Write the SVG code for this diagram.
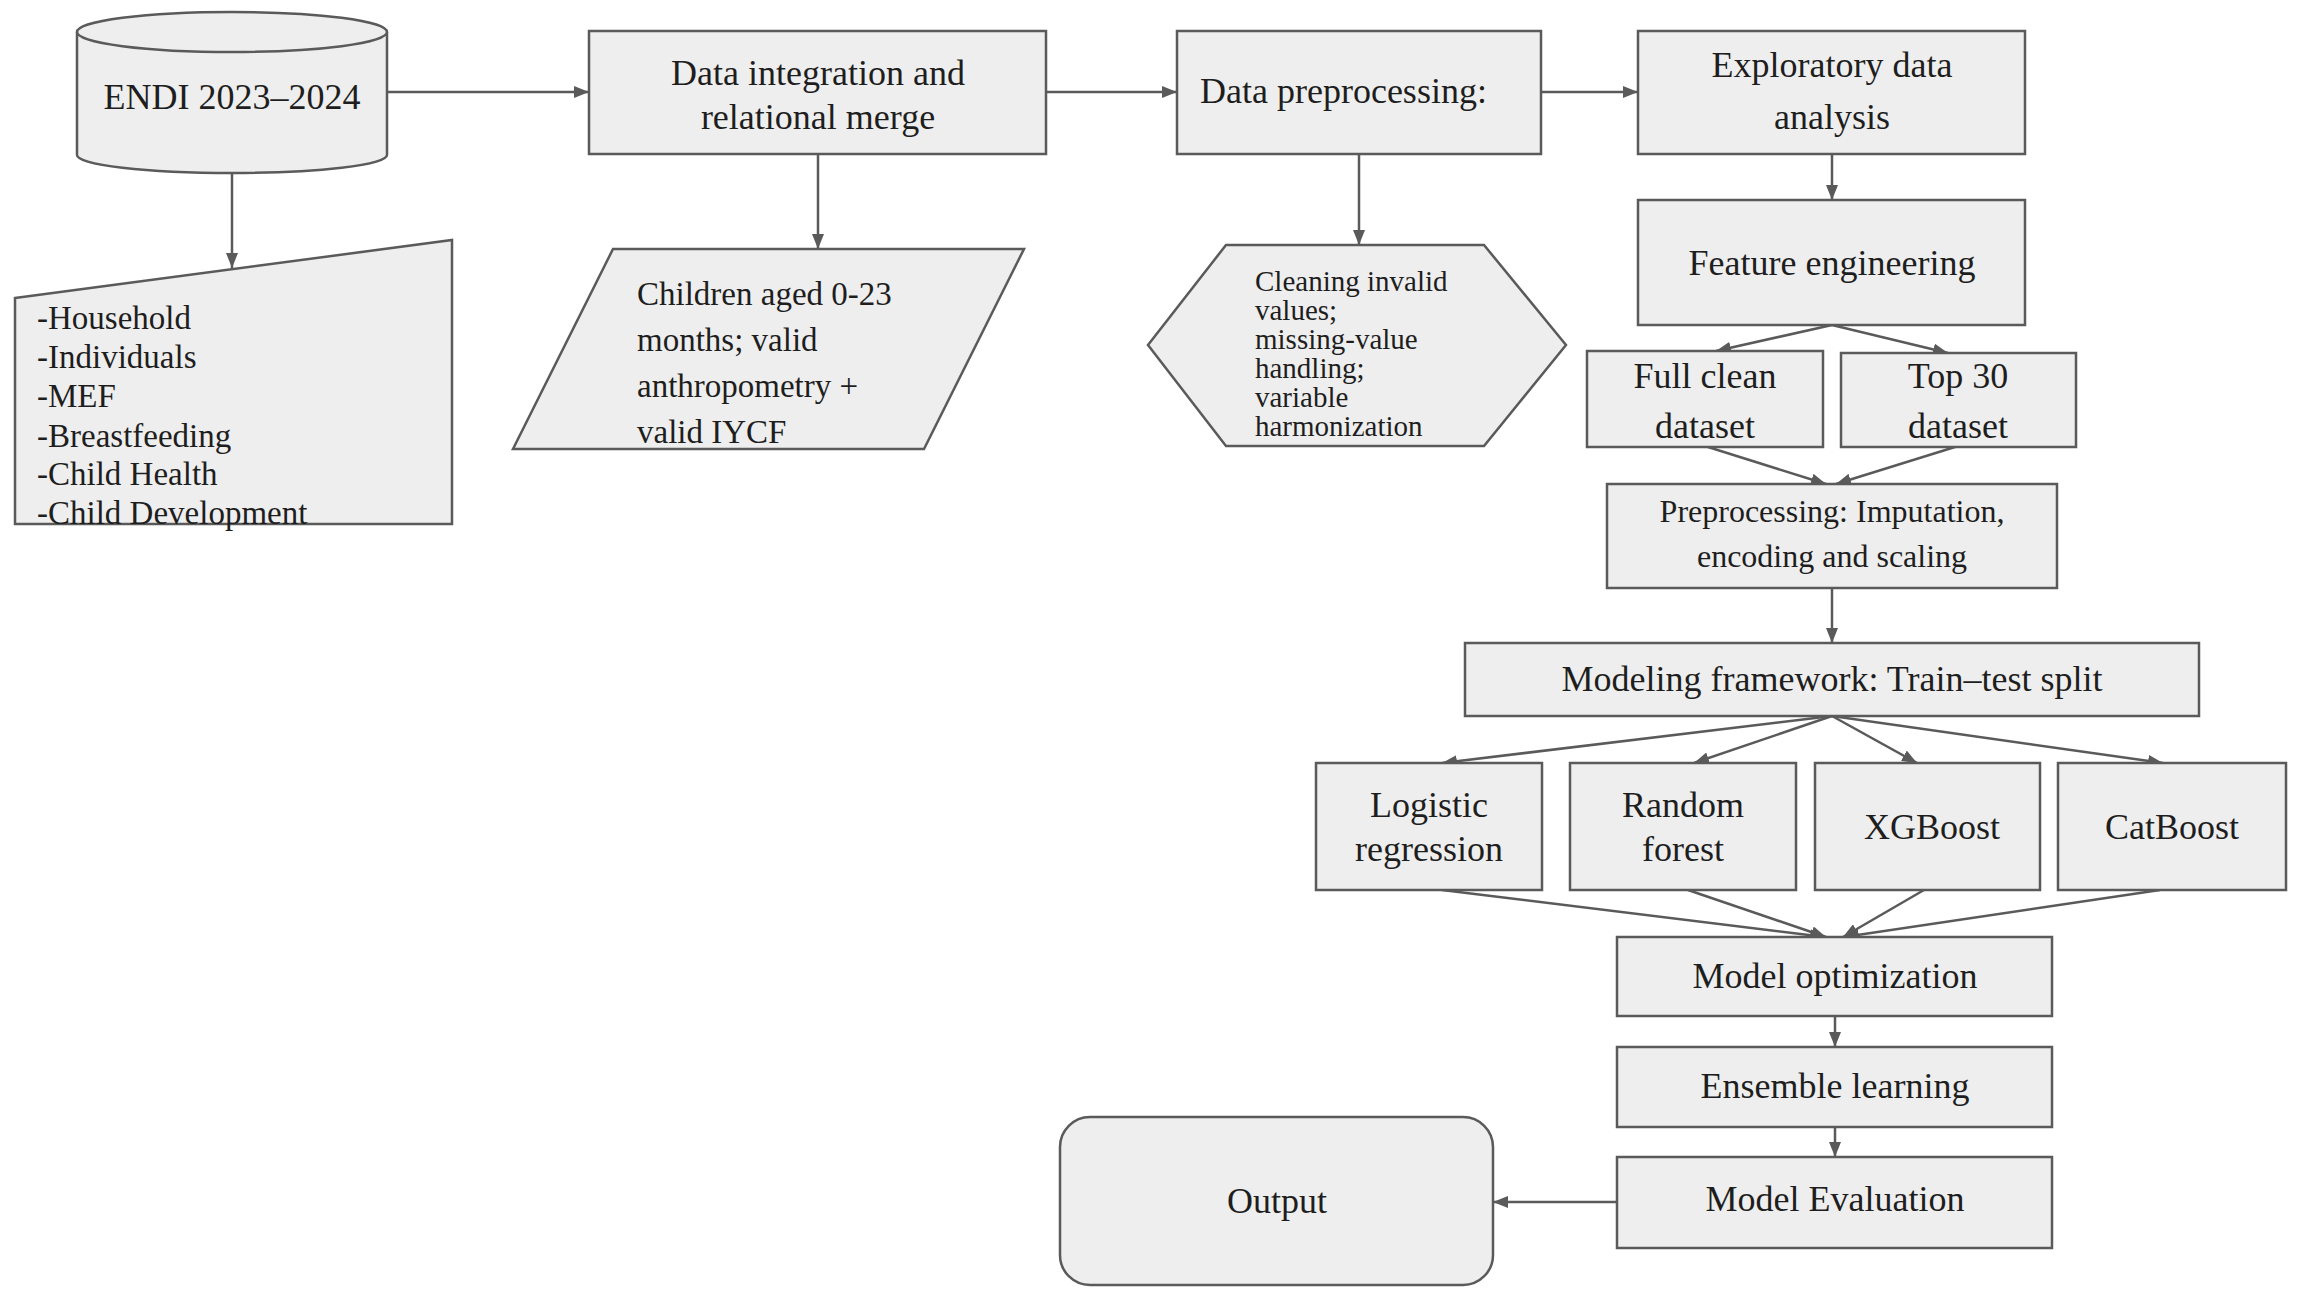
<svg xmlns="http://www.w3.org/2000/svg" width="2304" height="1301" viewBox="0 0 2304 1301">
<defs>
<marker id="ah" markerUnits="userSpaceOnUse" markerWidth="16" markerHeight="12" refX="15" refY="6" orient="auto">
<path d="M0,0 L15,6 L0,12 z" fill="#5a5a5a"/>
</marker>
</defs>
<style>
.n{fill:#eeeeee;stroke:#5a5a5a;stroke-width:2.5}
.t{font-family:"Liberation Serif","Times New Roman",serif;font-size:36px;fill:#1e1e1e}
.c{text-anchor:middle}
.s33{font-size:33px}
.s32{font-size:32px}
.s29{font-size:29px}
.e{fill:none;stroke:#5a5a5a;stroke-width:2.5;marker-end:url(#ah)}
</style>
<rect width="2304" height="1301" fill="#ffffff"/>
<g id="connectors">
<line class="e" x1="387" y1="92" x2="589" y2="92"/>
<line class="e" x1="1046" y1="92" x2="1177" y2="92"/>
<line class="e" x1="1541" y1="92" x2="1638" y2="92"/>
<line class="e" x1="232" y1="174" x2="232" y2="268"/>
<line class="e" x1="818" y1="155" x2="818" y2="249"/>
<line class="e" x1="1359" y1="155" x2="1359" y2="245"/>
<line class="e" x1="1832" y1="155" x2="1832" y2="200"/>
<line class="e" x1="1832" y1="325" x2="1716" y2="351"/>
<line class="e" x1="1832" y1="325" x2="1948" y2="353"/>
<line class="e" x1="1708" y1="447" x2="1826" y2="484"/>
<line class="e" x1="1955" y1="447" x2="1836" y2="484"/>
<line class="e" x1="1832" y1="588" x2="1832" y2="643"/>
<line class="e" x1="1832" y1="716" x2="1442" y2="763"/>
<line class="e" x1="1832" y1="716" x2="1694" y2="763"/>
<line class="e" x1="1832" y1="716" x2="1917" y2="763"/>
<line class="e" x1="1832" y1="716" x2="2163" y2="763"/>
<line class="e" x1="1442" y1="890" x2="1825" y2="937"/>
<line class="e" x1="1688" y1="890" x2="1826" y2="937"/>
<line class="e" x1="1924" y1="890" x2="1843" y2="937"/>
<line class="e" x1="2160" y1="890" x2="1844" y2="937"/>
<line class="e" x1="1835" y1="1016" x2="1835" y2="1047"/>
<line class="e" x1="1835" y1="1127" x2="1835" y2="1157"/>
<line class="e" x1="1617" y1="1202" x2="1493" y2="1202"/>
</g>
<g id="endi">
<path class="n" d="M77,32 L77,155 A155,18 0 0 0 387,155 L387,32"/>
<ellipse class="n" cx="232" cy="32" rx="155" ry="20"/>
<text class="t c" x="232" y="109">ENDI 2023–2024</text>
</g>
<g id="modules">
<polygon class="n" points="15,298 452,240 452,524 15,524"/>
<text class="t s33" x="37" y="329">-Household</text>
<text class="t s33" x="37" y="368">-Individuals</text>
<text class="t s33" x="37" y="407">-MEF</text>
<text class="t s33" x="37" y="447">-Breastfeeding</text>
<text class="t s33" x="37" y="485">-Child Health</text>
<text class="t s33" x="37" y="524">-Child Development</text>
</g>
<g id="integration">
<rect class="n" x="589" y="31" width="457" height="123"/>
<text class="t c" x="818" y="85">Data integration and</text>
<text class="t c" x="818" y="129">relational merge</text>
</g>
<g id="children">
<polygon class="n" points="613,249 1024,249 924,449 513,449"/>
<text class="t s33" x="637" y="305">Children aged 0-23</text>
<text class="t s33" x="637" y="351">months; valid</text>
<text class="t s33" x="637" y="397">anthropometry +</text>
<text class="t s33" x="637" y="443">valid IYCF</text>
</g>
<g id="preprocessing">
<rect class="n" x="1177" y="31" width="364" height="123"/>
<text class="t" x="1200" y="103">Data preprocessing:</text>
</g>
<g id="cleaning">
<polygon class="n" points="1148,345 1226,245 1484,245 1566,345 1484,446 1226,446"/>
<text class="t s29" x="1255" y="291">Cleaning invalid</text>
<text class="t s29" x="1255" y="320">values;</text>
<text class="t s29" x="1255" y="349">missing-value</text>
<text class="t s29" x="1255" y="378">handling;</text>
<text class="t s29" x="1255" y="407">variable</text>
<text class="t s29" x="1255" y="436">harmonization</text>
</g>
<g id="eda">
<rect class="n" x="1638" y="31" width="387" height="123"/>
<text class="t c" x="1832" y="77">Exploratory data</text>
<text class="t c" x="1832" y="129">analysis</text>
</g>
<g id="feature">
<rect class="n" x="1638" y="200" width="387" height="125"/>
<text class="t c" x="1832" y="275">Feature engineering</text>
</g>
<g id="fullclean">
<rect class="n" x="1587" y="351" width="236" height="96"/>
<text class="t c" x="1705" y="388">Full clean</text>
<text class="t c" x="1705" y="438">dataset</text>
</g>
<g id="top30">
<rect class="n" x="1841" y="353" width="235" height="94"/>
<text class="t c" x="1958" y="388">Top 30</text>
<text class="t c" x="1958" y="438">dataset</text>
</g>
<g id="impute">
<rect class="n" x="1607" y="484" width="450" height="104"/>
<text class="t c s32" x="1832" y="522">Preprocessing: Imputation,</text>
<text class="t c s32" x="1832" y="567">encoding and scaling</text>
</g>
<g id="modeling">
<rect class="n" x="1465" y="643" width="734" height="73"/>
<text class="t c" x="1832" y="691">Modeling framework: Train–test split</text>
</g>
<g id="logistic">
<rect class="n" x="1316" y="763" width="226" height="127"/>
<text class="t c" x="1429" y="817">Logistic</text>
<text class="t c" x="1429" y="861">regression</text>
</g>
<g id="randomforest">
<rect class="n" x="1570" y="763" width="226" height="127"/>
<text class="t c" x="1683" y="817">Random</text>
<text class="t c" x="1683" y="861">forest</text>
</g>
<g id="xgboost">
<rect class="n" x="1815" y="763" width="225" height="127"/>
<text class="t c" x="1932" y="839">XGBoost</text>
</g>
<g id="catboost">
<rect class="n" x="2058" y="763" width="228" height="127"/>
<text class="t c" x="2172" y="839">CatBoost</text>
</g>
<g id="optimization">
<rect class="n" x="1617" y="937" width="435" height="79"/>
<text class="t c" x="1835" y="988">Model optimization</text>
</g>
<g id="ensemble">
<rect class="n" x="1617" y="1047" width="435" height="80"/>
<text class="t c" x="1835" y="1098">Ensemble learning</text>
</g>
<g id="evaluation">
<rect class="n" x="1617" y="1157" width="435" height="91"/>
<text class="t c" x="1835" y="1211">Model Evaluation</text>
</g>
<g id="output">
<rect class="n" x="1060" y="1117" width="433" height="168" rx="30" ry="30"/>
<text class="t c" x="1277" y="1213">Output</text>
</g>
</svg>
